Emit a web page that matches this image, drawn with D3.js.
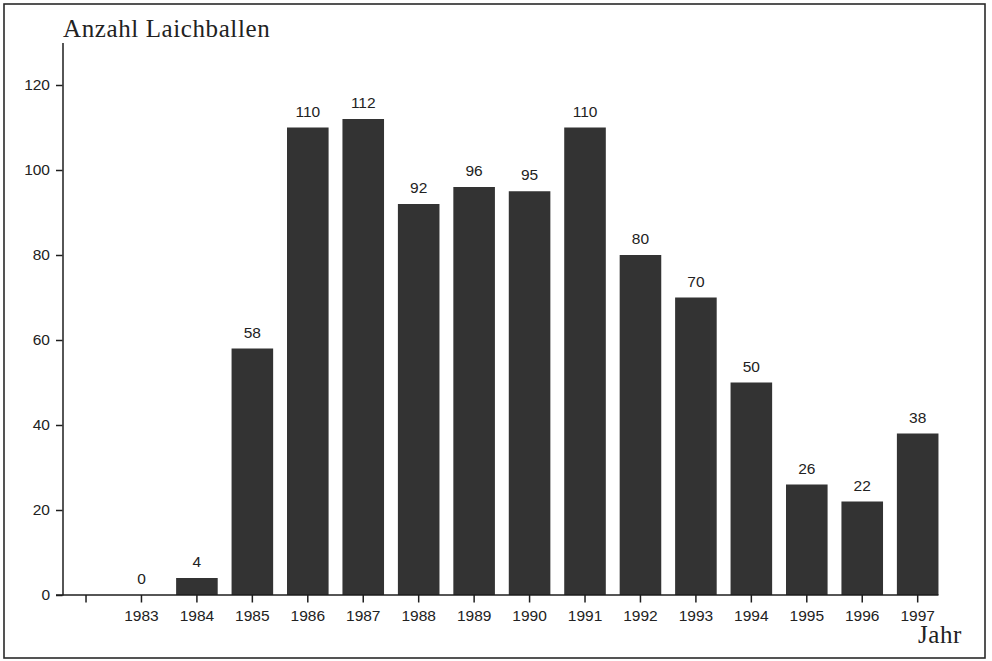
<!DOCTYPE html>
<html>
<head>
<meta charset="utf-8">
<script src="https://cdn.jsdelivr.net/npm/d3@7"></script>
<style>
  html, body { margin: 0; padding: 0; background: #fff; }
  svg { display: block; }
  .tick text { font-family: "Liberation Sans", Arial, sans-serif; font-size: 15.5px; fill: #222; }
</style>
</head>
<body>
<svg id="chart" width="992" height="661"></svg>
<script>
// Laichballen count per year; the leading empty slot is an unlabeled tick
const years = ["", "1983", "1984", "1985", "1986", "1987", "1988", "1989", "1990",
               "1991", "1992", "1993", "1994", "1995", "1996", "1997"];
const counts = [null, 0, 4, 58, 110, 112, 92, 96, 95, 110, 80, 70, 50, 26, 22, 38];
const yTicks = [0, 20, 40, 60, 80, 100, 120];

const svg = d3.select("#chart");
const ink = "#1e1e1e";

// outer frame
svg.append("rect")
  .attr("x", 4).attr("y", 4).attr("width", 981).attr("height", 654)
  .attr("fill", "none").attr("stroke", "#2a2a2a").attr("stroke-width", 1.6);

const axisX = 62.5;
const x = d3.scaleBand()
  .domain(years)
  .range([58.3, 945.4])
  .paddingInner(0.25)
  .paddingOuter(0.125);

const y = d3.scaleLinear().domain([0, 130]).range([595, 42.5]);

const data = years.map((yr, i) => ({ year: yr, value: counts[i] }))
  .filter(d => d.value !== null);

// bars
svg.append("g").selectAll("rect")
  .data(data)
  .join("rect")
  .attr("x", d => x(d.year))
  .attr("y", d => y(d.value))
  .attr("width", x.bandwidth())
  .attr("height", d => y(0) - y(d.value))
  .attr("fill", "#333");

// value labels
svg.append("g").selectAll("text")
  .data(data)
  .join("text")
  .attr("x", d => x(d.year) + x.bandwidth() / 2)
  .attr("y", d => y(d.value) - 11)
  .attr("text-anchor", "middle")
  .style("font-family", "'Liberation Sans', Arial, sans-serif")
  .style("font-size", "15.5px")
  .style("fill", "#222")
  .text(d => d.value);

// y axis
const gy = svg.append("g")
  .attr("transform", `translate(${axisX},0)`)
  .call(d3.axisLeft(y).tickValues(yTicks).tickSize(6.5).tickSizeOuter(0).tickPadding(6));
gy.select(".domain").attr("stroke", ink).attr("stroke-width", 1.5);
gy.selectAll(".tick line").attr("stroke", ink).attr("stroke-width", 1.5);

// x axis
const gx = svg.append("g")
  .attr("transform", `translate(0,${y(0)})`)
  .call(d3.axisBottom(x).tickSize(7.5).tickPadding(7));
gx.select(".domain").remove();
gx.selectAll(".tick line").attr("stroke", ink).attr("stroke-width", 1.5);

// baseline
svg.append("line")
  .attr("x1", axisX - 6.5).attr("x2", x("1997") + x.bandwidth())
  .attr("y1", y(0)).attr("y2", y(0))
  .attr("stroke", ink).attr("stroke-width", 1.5);

// axis titles
svg.append("text")
  .attr("x", 63).attr("y", 37)
  .style("font-family", "'Liberation Serif', 'DejaVu Serif', serif")
  .style("font-size", "25px")
  .style("letter-spacing", "0.6px")
  .style("fill", "#222")
  .text("Anzahl Laichballen");

svg.append("text")
  .attr("x", 962).attr("y", 643)
  .attr("text-anchor", "end")
  .style("font-family", "'Liberation Serif', 'DejaVu Serif', serif")
  .style("font-size", "25px")
  .style("letter-spacing", "0.6px")
  .style("fill", "#222")
  .text("Jahr");
</script>
</body>
</html>
